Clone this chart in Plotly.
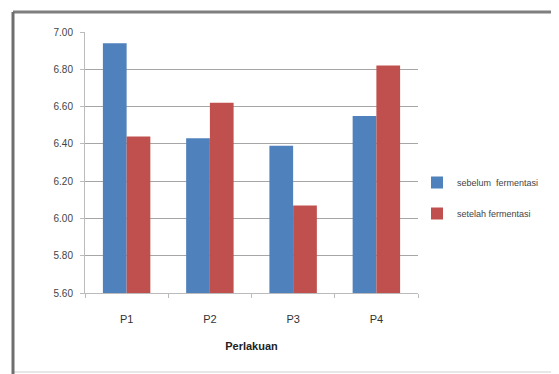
import plotly.graph_objects as go

categories = ["P1", "P2", "P3", "P4"]
sebelum = [6.94, 6.43, 6.39, 6.55]
setelah = [6.44, 6.62, 6.07, 6.82]
tick_vals = [5.6, 5.8, 6.0, 6.2, 6.4, 6.6, 6.8, 7.0]
tick_text = ["5.60", "5.80", "6.00", "6.20", "6.40", "6.60", "6.80", "7.00"]

FONT = "Liberation Sans Narrow, Arial Narrow, Liberation Sans, Arial"

fig = go.Figure()
fig.add_bar(x=categories, y=sebelum, name="sebelum  fermentasi",
            marker=dict(color="#4F81BD", line=dict(width=0)), legendgroup="a")
fig.add_bar(x=categories, y=setelah, name="setelah fermentasi",
            marker=dict(color="#C0504D", line=dict(width=0)), legendgroup="b")

# page body has an 8px margin; work in screen pixels and convert
OFF = 8
W, H = 559 - OFF, 374 - OFF
L, T = 85 - OFF, 32 - OFF
R = W - (418 - OFF)
B = H - (293 - OFF)
pw, ph = W - L - R, H - T - B

def px(x):
    return (x - OFF - L) / pw

def py(y):
    return (H - B - (y - OFF)) / ph

fig.update_layout(
    width=W, height=H,
    margin=dict(l=L, r=R, t=T, b=B, pad=0, autoexpand=False),
    paper_bgcolor="white", plot_bgcolor="white",
    barmode="group", bargap=0.43, bargroupgap=0,
    font=dict(family=FONT, size=10, color="#333333"),
    xaxis=dict(
        showgrid=False, showline=True, linecolor="#BBBBBB", linewidth=1,
        ticks="outside", tickson="boundaries", ticklen=4, tickcolor="#BBBBBB",
        ticklabelstandoff=16,
        tickfont=dict(size=11, color="#333333"),
        title=dict(text="<b>Perlakuan</b>", font=dict(size=11, color="#222222"), standoff=18),
        automargin=False,
    ),
    yaxis=dict(
        range=[5.6, 7.0], tickvals=tick_vals, ticktext=tick_text,
        showgrid=True, gridcolor="#A6A6A6", gridwidth=1,
        showline=True, linecolor="#BBBBBB", linewidth=1,
        ticks="outside", ticklen=4, tickcolor="#BBBBBB",
        ticklabelstandoff=5,
        tickfont=dict(size=10, color="#444444"), zeroline=False,
        automargin=False,
    ),
    legend=dict(
        x=px(417), y=py(168), xanchor="left", yanchor="top",
        font=dict(size=9, color="#444444"), bgcolor="rgba(0,0,0,0)",
        tracegroupgap=12, itemwidth=30,
    ),
    showlegend=True,
)

# chart border
fig.add_shape(type="rect", xref="paper", yref="paper",
              x0=px(13), x1=px(557), y0=py(372), y1=py(12),
              line=dict(color="#CFCFCF", width=1), layer="below")
fig.add_shape(type="line", xref="paper", yref="paper",
              x0=px(13), x1=px(559), y0=py(12), y1=py(12),
              line=dict(color="#7F7F7F", width=3))
fig.add_shape(type="line", xref="paper", yref="paper",
              x0=px(13), x1=px(13), y0=py(12), y1=py(374),
              line=dict(color="#6F6F6F", width=3))

fig.write_html("out.html")
